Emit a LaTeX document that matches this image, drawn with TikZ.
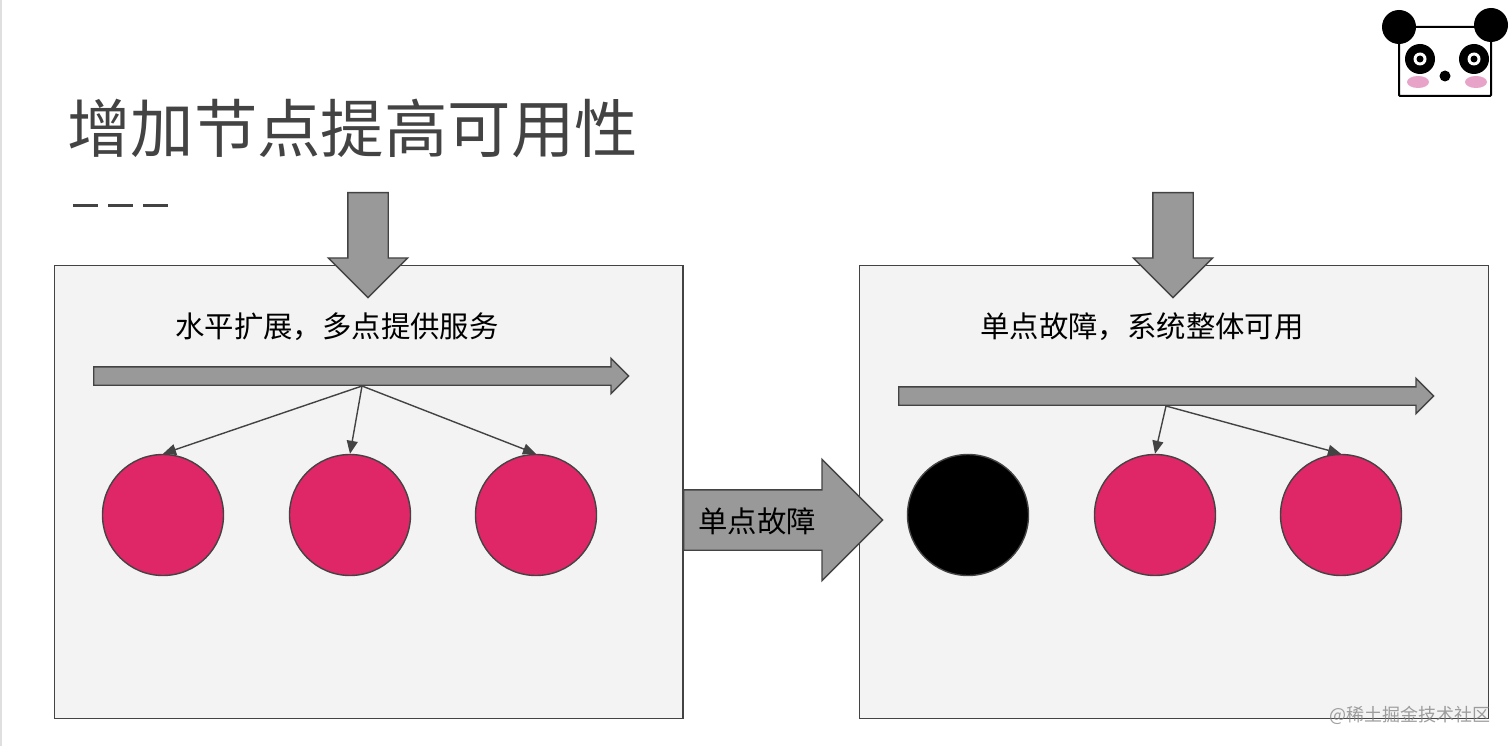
\documentclass[tikz,border=0pt]{standalone}
\usepackage{fontspec}
\setmainfont{Noto Sans CJK SC}
\usetikzlibrary{arrows.meta,shapes.arrows,shapes.geometric}
\definecolor{inkgray}{HTML}{434343}
\definecolor{boxgray}{HTML}{F3F3F3}
\definecolor{arrowgray}{HTML}{999999}
\definecolor{dotred}{HTML}{DF2667}
\definecolor{cheekpink}{HTML}{E8A3C9}
\tikzset{
  panelbox/.style={draw=inkgray, fill=boxgray, line width=1.4pt, minimum width=628.5, minimum height=453, inner sep=0, anchor=north west},
  dotnode/.style={circle, draw=inkgray, fill=dotred, line width=1.4pt, minimum size=121, inner sep=0},
  deadnode/.style={dotnode, fill=black},
  blockarrow/.style={single arrow, draw=inkgray, fill=arrowgray, line width=1.4pt, inner sep=0, single arrow tip angle=90, single arrow head indent=0, anchor=tail},
  downarrow/.style={blockarrow, shape border rotate=270, inner xsep=19.5, minimum width=79, minimum height=105, single arrow head extend=19.5},
  longarrow/.style={blockarrow, inner ysep=8.5, minimum width=35, minimum height=535, single arrow head extend=8.5},
  bodytext/.style={font=\fontsize{29.4}{29.4}\selectfont, text=black, inner sep=0},
  linkarrow/.style={draw=inkgray, line width=1.4pt, -{Triangle[length=13, width=11]}}
}
\begin{document}
\begin{tikzpicture}[x=1pt, y=-1pt]
  \useasboundingbox (0,0) rectangle (1512,746);
  \fill[gray!25] (0,0) rectangle (2,746);
  % title
  \node (title) [font=\fontsize{63.4}{63.4}\selectfont, text=inkgray, inner sep=0] at (352.5,128) {增加节点提高可用性};
  \coordinate (ruleStart) at (73,206);
  \coordinate (ruleEnd) at (168,206);
  \draw[inkgray, line width=3pt, dash pattern=on 25pt off 10pt] (ruleStart) -- (ruleEnd);
  % panels
  \node (panelLeft) [panelbox] at (53.8,265) {};
  \node (panelRight) [panelbox] at (859,265) {};
  \node (inLeft) [downarrow] at (368,192) {};
  \node (inRight) [downarrow] at (1173,192) {};
  \node (textLeft) [bodytext] at (337,327) {水平扩展，多点提供服务};
  \node (textRight) [bodytext] at (1142,327) {单点故障，系统整体可用};
  \node (busLeft) [longarrow] at (93,376) {};
  \node (busRight) [longarrow] at (898,396) {};
  % circles
  \node (dotA) [dotnode] at (163,515) {};
  \node (dotB) [dotnode] at (350,515) {};
  \node (dotC) [dotnode] at (536,515) {};
  \node (dotD) [deadnode] at (968,515) {};
  \node (dotE) [dotnode] at (1155,515) {};
  \node (dotF) [dotnode] at (1341,515) {};
  \coordinate (tapLeft) at (362,386);
  \coordinate (tapRight) at (1166,406);
  \draw[linkarrow] (tapLeft) -- (dotA.north);
  \draw[linkarrow] (tapLeft) -- (dotB.north);
  \draw[linkarrow] (tapLeft) -- (dotC.north);
  \draw[linkarrow] (tapRight) -- (dotE.north);
  \draw[linkarrow] (tapRight) -- (dotF.north);
  % middle arrow
  \node (failArrow) [blockarrow, inner ysep=29.5, minimum width=120, minimum height=199, single arrow head extend=30.5] at (683,520) {};
  \node (failText) [bodytext] at (757,521) {单点故障};
  % panda
  \draw[black, line width=2pt, fill=white, rounded corners=1pt] (1399,27) rectangle (1491,96);
  \fill (1399,27) circle (17);
  \fill (1491,25) circle (17);
  \fill (1420,59) circle (15);
  \fill (1474,59) circle (15);
  \fill[white] (1420,59) circle (6.5);
  \fill[white] (1474,59) circle (6.5);
  \fill (1420,59) circle (3.5);
  \fill (1474,59) circle (3.5);
  \fill (1445,76) circle (5.5);
  \fill[cheekpink] (1418,82) ellipse (11 and 6);
  \fill[cheekpink] (1476,82) ellipse (11 and 6);
  % watermark
  \node (mark) [font=\fontsize{18}{18}\selectfont, text=gray, text opacity=0.75, inner sep=0] at (1410,715) {@稀土掘金技术社区};
\end{tikzpicture}
\end{document}
